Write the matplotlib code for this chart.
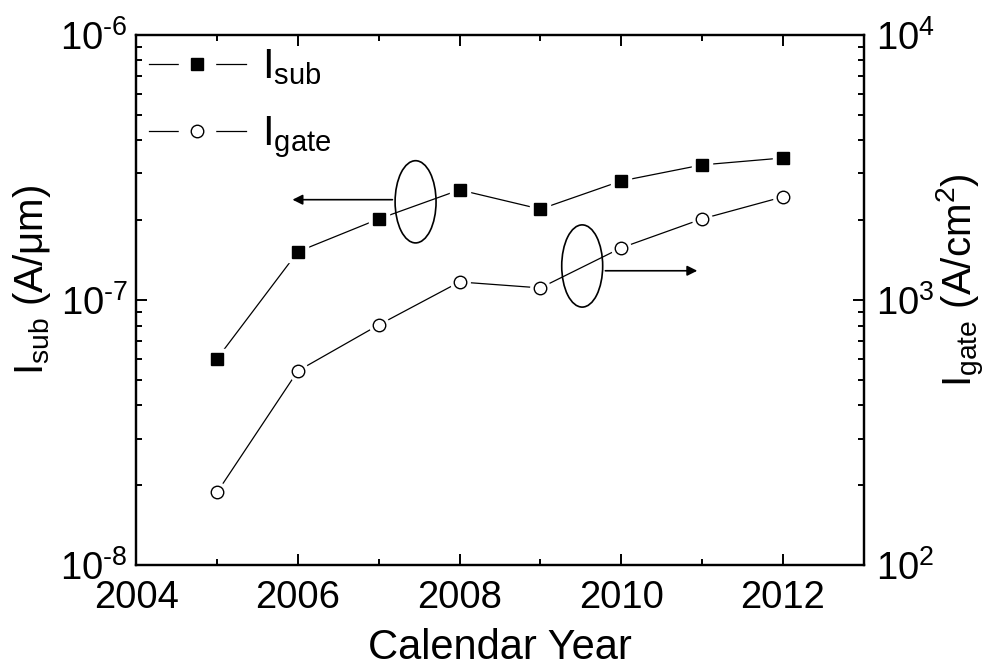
import numpy as np
import matplotlib
matplotlib.use("Agg")
import matplotlib.pyplot as plt
from matplotlib.lines import Line2D
from matplotlib.patches import Ellipse
from matplotlib.legend_handler import HandlerTuple
from matplotlib.ticker import FuncFormatter

plt.rcParams['font.family'] = ['Liberation Sans', 'DejaVu Sans']
plt.rcParams['mathtext.fontset'] = 'custom'
plt.rcParams['mathtext.rm'] = 'Liberation Sans'
plt.rcParams['mathtext.it'] = 'Liberation Sans'
plt.rcParams['axes.unicode_minus'] = False

# substrate and gate leakage by year
years = [2005, 2006, 2007, 2008, 2009, 2010, 2011, 2012]
i_sub = [6.0e-8, 1.52e-7, 2.02e-7, 2.6e-7, 2.2e-7, 2.81e-7, 3.23e-7, 3.43e-7]
i_gate = [188, 540, 805, 1169, 1110, 1572, 2021, 2447]

fig = plt.figure(figsize=(9.94, 6.68), dpi=100)
ax = fig.add_subplot(111)
fig.subplots_adjust(left=0.137, right=0.869, top=0.948, bottom=0.154)
ax2 = ax.twinx()

def draw_series(axis, x, y, marker, face):
    # line first, then a white halo so the line stops short of each marker
    axis.plot(x, y, '-', color='black', lw=0.9, zorder=2)
    axis.plot(x, y, linestyle='none', marker=marker, ms=14, mfc='white', mec='white', zorder=3)
    axis.plot(x, y, linestyle='none', marker=marker, ms=9, mfc=face, mec='black', mew=1.0, zorder=4)

def legend_handle(marker, face):
    ln = Line2D([], [], color='black', lw=0.9)
    gap = Line2D([], [], linestyle='none', marker=marker, ms=26, mfc='white', mec='white')
    mk = Line2D([], [], linestyle='none', marker=marker, ms=9, mfc=face, mec='black', mew=1.0)
    return (ln, gap, mk)

def decade_label(v, pos):
    exp = int(round(np.log10(v)))
    if exp < 0:
        return r'$\mathregular{10^{\text{-}%d}}$' % (-exp)
    return r'$\mathregular{10^{%d}}$' % exp

draw_series(ax, years, i_sub, 's', 'black')
draw_series(ax2, years, i_gate, 'o', 'white')

ax.set_xlim(2004, 2013)
ax.set_yscale('log')
ax.set_ylim(1e-8, 1e-6)
ax2.set_yscale('log')
ax2.set_ylim(1e2, 1e4)
ax.yaxis.set_major_formatter(FuncFormatter(decade_label))
ax2.yaxis.set_major_formatter(FuncFormatter(decade_label))

ax.set_xticks([2004, 2006, 2008, 2010, 2012])
ax.set_xticks([2005, 2007, 2009, 2011, 2013], minor=True)

for a in (ax, ax2):
    for s in a.spines.values():
        s.set_linewidth(1.6)
    a.tick_params(which='both', direction='in', labelsize=27.5, width=1.4)
    a.tick_params(which='major', length=8)
    a.tick_params(which='minor', length=4.5)
ax.tick_params(which='both', top=True, right=False)
ax.tick_params(axis='x', pad=11)
ax.tick_params(axis='y', pad=6)
ax2.tick_params(axis='y', pad=9)

ax.set_xlabel('Calendar Year', fontsize=30, labelpad=8)
ax.set_ylabel(r'$\mathregular{I_{sub}}$ (A/$\mathregular{\mu}$m)', fontsize=29)
ax2.set_ylabel(r'$\mathregular{I_{gate}}$ (A/cm$\mathregular{^2}$)', fontsize=29)
ax.yaxis.set_label_coords(-0.114, 0.538)
ax2.yaxis.set_label_coords(1.098, 0.538)

# ellipses with arrows pointing to the matching axis
ax.add_patch(Ellipse((0.384, 0.685), 0.0563, 0.155, transform=ax.transAxes,
                     fill=False, ec='black', lw=1.2, zorder=5))
ax.add_patch(Ellipse((0.613, 0.564), 0.0563, 0.155, transform=ax.transAxes,
                     fill=False, ec='black', lw=1.2, zorder=5))
ax.annotate('', xy=(0.211, 0.689), xytext=(0.356, 0.689), xycoords='axes fraction',
            arrowprops=dict(arrowstyle='-|>', color='black', lw=1.2, mutation_scale=15))
ax.annotate('', xy=(0.775, 0.555), xytext=(0.641, 0.555), xycoords='axes fraction',
            arrowprops=dict(arrowstyle='-|>', color='black', lw=1.2, mutation_scale=15))

leg = ax2.legend([legend_handle('s', 'black'), legend_handle('o', 'white')],
                 [r'$\mathregular{I_{sub}}$', r'$\mathregular{I_{gate}}$'],
                 handler_map={tuple: HandlerTuple(ndivide=1)},
                 loc='upper left', frameon=False, fontsize=30, handlelength=2.33,
                 borderpad=0.1, borderaxespad=0.2, labelspacing=0.65, handletextpad=0.38)

fig.savefig('out.png', dpi=100)
